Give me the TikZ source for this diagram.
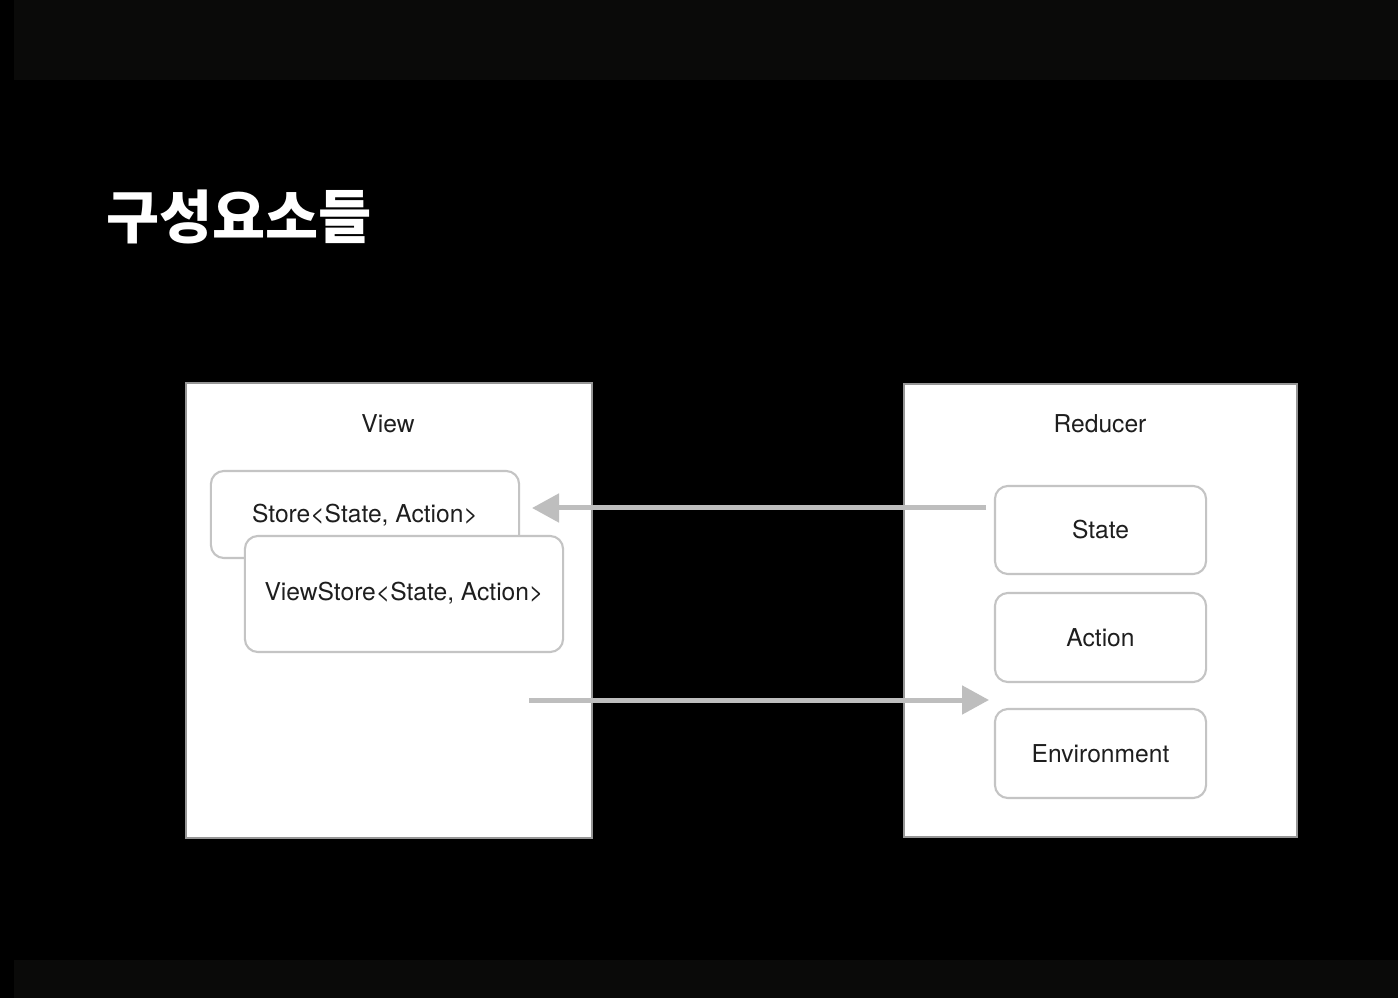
\documentclass[tikz,border=0pt]{standalone}
\usepackage{fontspec}
\setmainfont{TeX Gyre Heros}
\newfontfamily\krfont{Noto Sans CJK KR}
\usetikzlibrary{arrows.meta}

\definecolor{band}{RGB}{10,10,9}
\definecolor{rim}{RGB}{150,150,150}
\definecolor{softrim}{RGB}{196,196,196}
\definecolor{flow}{RGB}{190,190,190}
\definecolor{ink}{RGB}{30,30,30}

\tikzset{
  panel/.style={draw=rim,line width=0.4pt,fill=white,inner sep=0pt},
  part/.style={draw=softrim,line width=0.6pt,fill=white,rounded corners=0.13cm,
    text=ink,font=\fontsize{7}{8}\selectfont,inner sep=0pt},
  caption/.style={text=ink,font=\fontsize{7}{8}\selectfont,inner sep=0pt},
  flowline/.style={draw=flow,line width=0.05cm,-{Triangle[length=0.27cm,width=0.28cm]}}
}

\begin{document}
\begin{tikzpicture}[x=0.01cm,y=-0.01cm]
    \useasboundingbox[fill=black] (0,0) rectangle (1398,998);
    \fill[band] (14,0) rectangle (1398,80);
    \fill[band] (14,960) rectangle (1398,998);
    % title
    \node[anchor=west,inner sep=0pt,text=white,font=\krfont\bfseries\fontsize{16.4}{17}\selectfont] (title) at (106,217) {구성요소들};
    % view side
    \node[panel,minimum width=4.06cm,minimum height=4.55cm] (view) at (389,610.5) {};
    \node[caption] (viewlabel) at (388,424) {View};
    \node[part,minimum width=3.08cm,minimum height=0.87cm] (store) at (365,514.5) {};
    \node[caption] (storelabel) at (365,515) {Store<State, Action>};
    \node[part,minimum width=3.18cm,minimum height=1.16cm] (viewstore) at (404,594) {};
    \node[caption] (viewstorelabel) at (404,593) {ViewStore<State, Action>};
    % reducer side
    \node[panel,minimum width=3.93cm,minimum height=4.53cm] (reducer) at (1100.5,610.5) {};
    \node[caption] (reducerlabel) at (1100,424) {Reducer};
    \node[part,minimum width=2.11cm,minimum height=0.88cm] (state) at (1100.5,530) {State};
    \node[part,minimum width=2.11cm,minimum height=0.89cm] (action) at (1100.5,637.5) {Action};
    \node[part,minimum width=2.11cm,minimum height=0.89cm] (env) at (1100.5,753.5) {Environment};
    % flows
    \coordinate (stateout) at (986,508);
    \coordinate (storein) at (532,508);
    \coordinate (viewout) at (529,700);
    \coordinate (reducerin) at (989,700);
    \draw[flowline] (stateout) -- (storein);
    \draw[flowline] (viewout) -- (reducerin);
  \end{tikzpicture}
\end{document}
